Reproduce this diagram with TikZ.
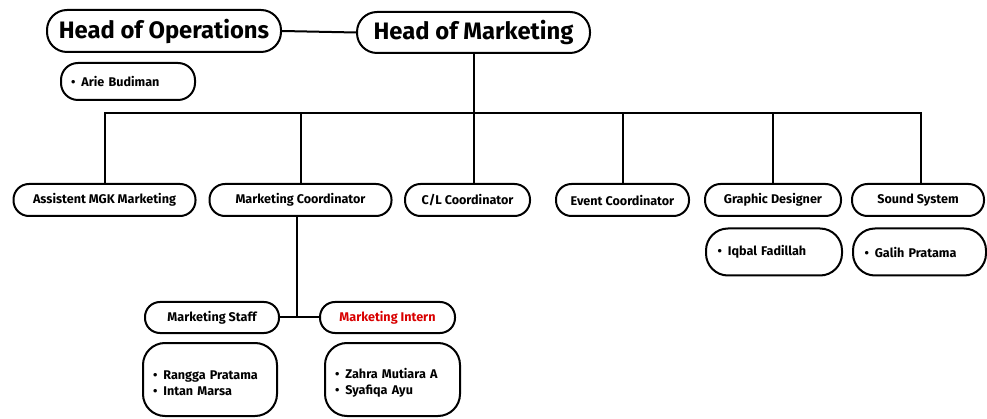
\documentclass[tikz,border=0pt]{standalone}
\usepackage{fontspec}
\setmainfont{Fira Sans}
\begin{document}
\begin{tikzpicture}[x=1pt,y=-1pt,
  box/.style={draw=black, line width=2pt, fill=white, inner sep=0pt, font=\bfseries\fontsize{12.6}{16}\selectfont},
  head/.style={box, rounded corners=20pt, font=\bfseries\fontsize{23.8}{28}\selectfont},
  role/.style={box, rounded corners=15.5pt, minimum height=32pt},
  person/.style={box, rounded corners=18pt, align=left, inner xsep=10pt},
  link/.style={draw=black, line width=2pt}]
\useasboundingbox (0,0) rectangle (987,419);
% heads
\node[head, minimum width=234pt, minimum height=42pt] (hoo) at (164,31) {Head of Operations};
\node[head, minimum width=233pt, minimum height=41pt] (hom) at (473.5,32.5) {Head of Marketing};
\node[person, rounded corners=17pt, text width=114pt, minimum height=37pt] (arie) at (128,81.5) {\textbullet\hspace{6pt}Arie Budiman};
% roles
\node[role, minimum width=182pt] (asst) at (104.5,200) {Assistent MGK Marketing};
\node[role, minimum width=182pt] (mc) at (300.5,200) {Marketing Coordinator};
\node[role, minimum width=125pt] (cl) at (467.5,200) {C/L Coordinator};
\node[role, minimum width=133pt] (ev) at (622.5,200) {Event Coordinator};
\node[role, minimum width=136pt] (gd) at (773,200) {Graphic Designer};
\node[role, minimum width=132pt] (ss) at (918,200) {Sound System};
% persons
\node[person, rounded corners=22pt, text width=113pt, inner xsep=11.5pt, minimum height=47pt] (iqbal) at (774,252) {\textbullet\hspace{6pt}Iqbal Fadillah};
\node[person, rounded corners=22pt, text width=110pt, inner xsep=11.5pt, minimum height=47pt] (galih) at (919.5,252) {\textbullet\hspace{6pt}Galih Pratama};
% staff / intern
\node[role, rounded corners=15pt, minimum width=134pt, minimum height=31pt] (staff) at (212,317.5) {Marketing Staff};
\node[role, rounded corners=15pt, minimum width=135pt, minimum height=31pt, text=red!85!black] (intern) at (387.5,317.5) {Marketing Intern};
\node[person, rounded corners=22pt, text width=114pt, minimum height=73pt] (rangga) at (210,379.5) {\rule{0pt}{17pt}\textbullet\hspace{6pt}Rangga Pratama\\\textbullet\hspace{6pt}Intan Marsa};
\node[person, rounded corners=22pt, text width=115pt, minimum height=73pt] (zahra) at (392.5,379.5) {\rule{0pt}{17pt}\textbullet\hspace{6pt}Zahra Mutiara A\\\textbullet\hspace{6pt}Syafiqa Ayu};
% connectors
\coordinate (busL) at (105,113);
\coordinate (busR) at (921,113);
\coordinate (jn) at (297,317.5);
\draw[link] (hoo.east) -- (hom.west);
\draw[link] (hom.south) -- (hom.south |- busL);
\draw[link, line cap=rect] (busL) -- (busR);
\draw[link] (busL) -- (busL |- asst.north);
\draw[link] (mc.north) -- (mc.north |- busL);
\draw[link] (hom.south |- busL) -- (hom.south |- cl.north);
\draw[link] (ev.north) -- (ev.north |- busL);
\draw[link] (gd.north) -- (gd.north |- busL);
\draw[link] (busR) -- (busR |- ss.north);
\draw[link] (mc.south -| jn) -- (jn);
\draw[link] (staff.east) -- (intern.west);
\end{tikzpicture}
\end{document}
